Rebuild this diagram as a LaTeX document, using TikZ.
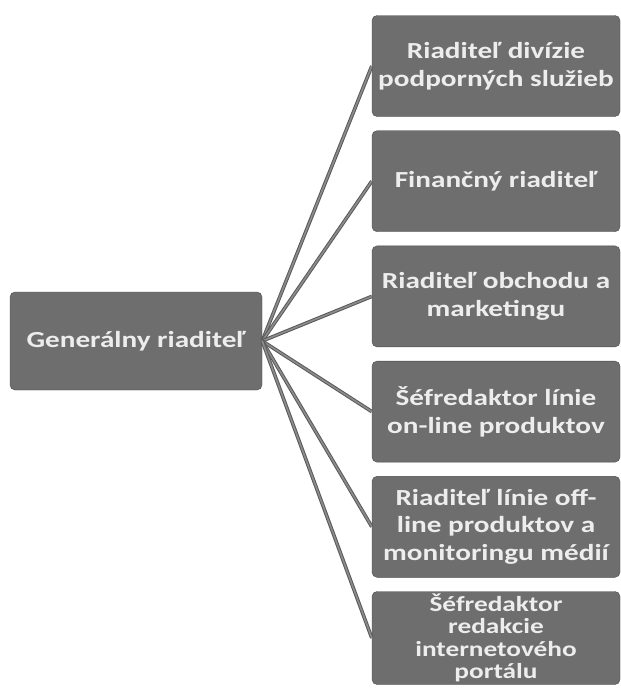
\documentclass[tikz,border=0pt]{standalone}
\usepackage{fontspec}
\setmainfont{Carlito}
\newfontfamily\boxfont{Carlito}[FakeStretch=1.27]
\usetikzlibrary{positioning}
\begin{document}
\begin{tikzpicture}[x=1pt, y=1pt,
  boss/.style={draw=black!70, fill=black!57, rounded corners=5pt, text=white!93!black, align=center, minimum width=252pt, minimum height=98pt, inner sep=2pt, font=\boxfont\bfseries\fontsize{23}{27.5}\selectfont},
  unit/.style={draw=black!70, fill=black!57, rounded corners=5pt, text=white!93!black, align=center, minimum width=248pt, minimum height=101pt, inner sep=1pt, font=\boxfont\bfseries\fontsize{23}{27.5}\selectfont},
  link/.style={draw=black!65, double=black!45, line width=1pt, double distance=1.6pt}]
\useasboundingbox (0,0) rectangle (621,-688);
\node[boss] (gen) at (136,-341) {Generálny riaditeľ};
\node[unit] (r1) at (496,-66) {Riaditeľ divízie\\podporných služieb};
\node[unit, below=13.8pt of r1] (r2) {Finančný riaditeľ};
\node[unit, below=13.8pt of r2] (r3) {Riaditeľ obchodu a\\marketingu};
\node[unit, below=13.8pt of r3] (r4) {Šéfredaktor línie\\on-line produktov};
\node[unit, below=13.8pt of r4] (r5) {Riaditeľ línie  off-\\line produktov a\\monitoringu médií};
\node[unit, below=13.8pt of r5, minimum height=93pt, font=\boxfont\bfseries\fontsize{21.5}{22.5}\selectfont] (r6) {Šéfredaktor\\redakcie\\internetového\\portálu};
\draw[link] (gen.east) -- (r1.west);
\draw[link] (gen.east) -- (r2.west);
\draw[link] (gen.east) -- (r3.west);
\draw[link] (gen.east) -- (r4.west);
\draw[link] (gen.east) -- (r5.west);
\draw[link] (gen.east) -- (r6.west);
\end{tikzpicture}
\end{document}
